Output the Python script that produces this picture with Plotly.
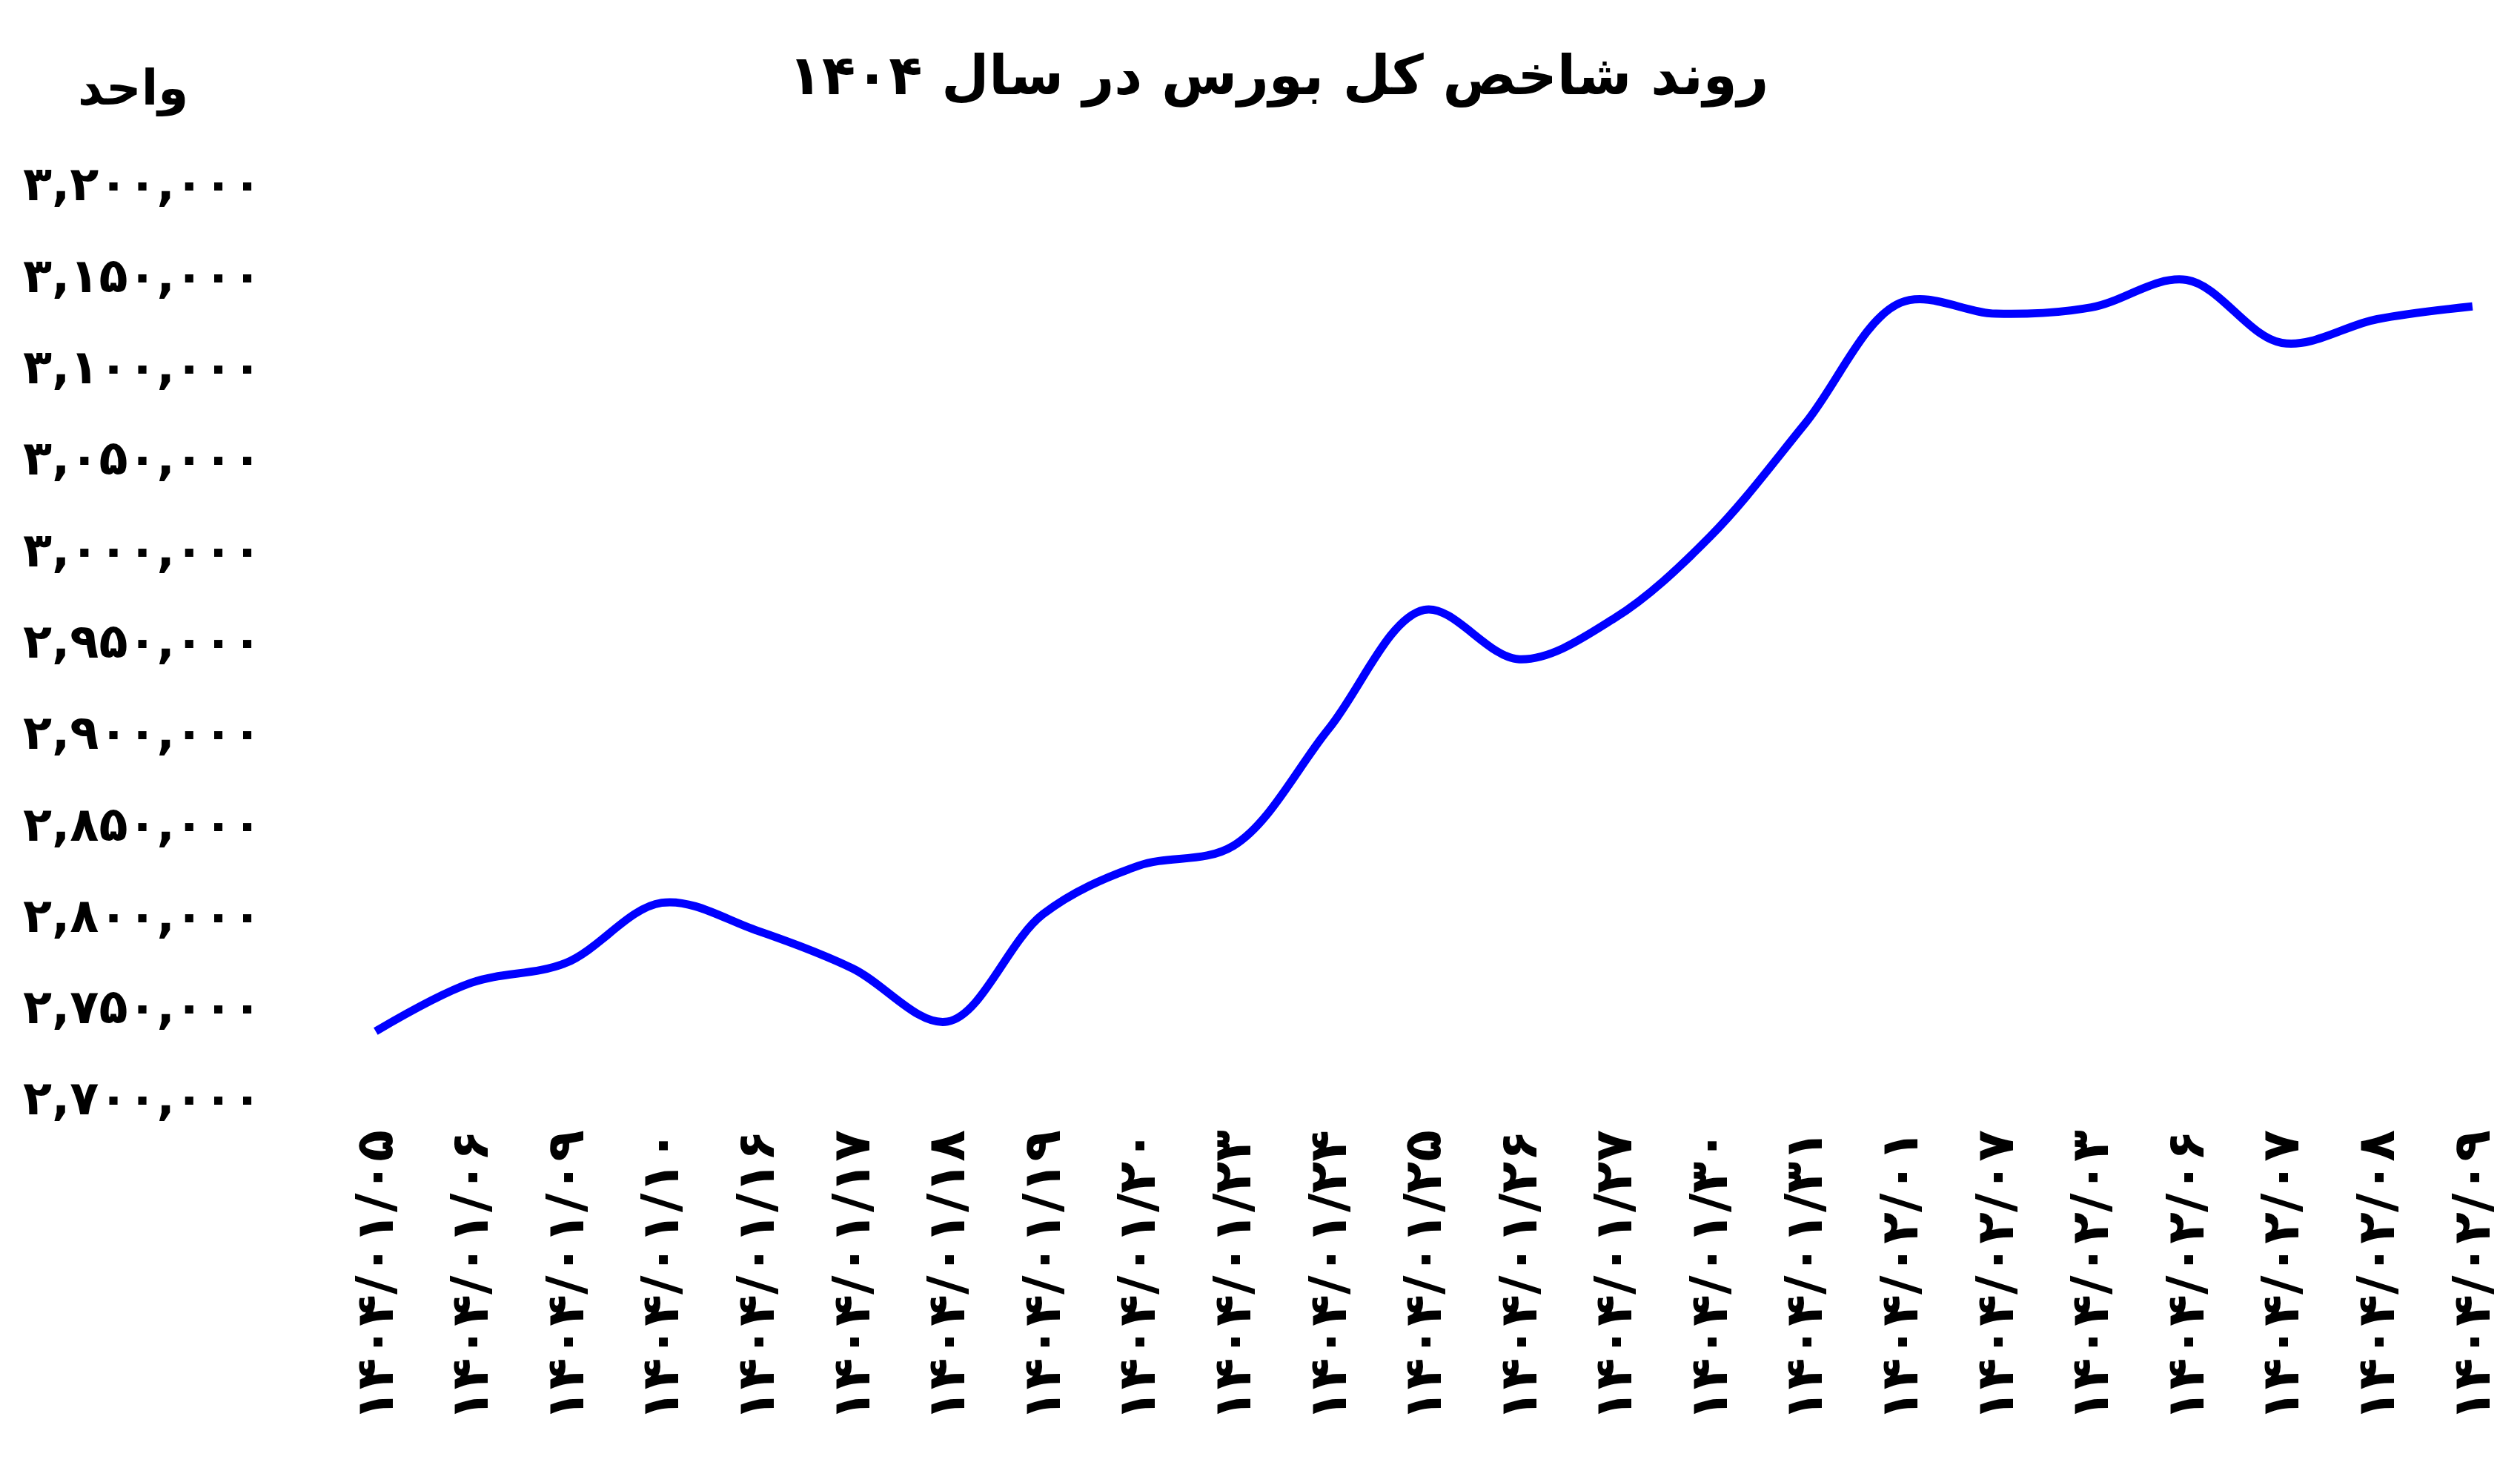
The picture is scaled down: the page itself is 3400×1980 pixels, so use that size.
import plotly.graph_objects as go

# dates (Jalali, as printed on the chart)
dates = [
    "۱۴۰۴/۰۱/۰۵", "۱۴۰۴/۰۱/۰۶", "۱۴۰۴/۰۱/۰۹", "۱۴۰۴/۰۱/۱۰", "۱۴۰۴/۰۱/۱۶",
    "۱۴۰۴/۰۱/۱۷", "۱۴۰۴/۰۱/۱۸", "۱۴۰۴/۰۱/۱۹", "۱۴۰۴/۰۱/۲۰", "۱۴۰۴/۰۱/۲۳",
    "۱۴۰۴/۰۱/۲۴", "۱۴۰۴/۰۱/۲۵", "۱۴۰۴/۰۱/۲۶", "۱۴۰۴/۰۱/۲۷", "۱۴۰۴/۰۱/۳۰",
    "۱۴۰۴/۰۱/۳۱", "۱۴۰۴/۰۲/۰۱", "۱۴۰۴/۰۲/۰۷", "۱۴۰۴/۰۲/۰۳", "۱۴۰۴/۰۲/۰۶",
    "۱۴۰۴/۰۲/۰۷", "۱۴۰۴/۰۲/۰۸", "۱۴۰۴/۰۲/۰۹",
]

# total index values
index_values = [
    2736500, 2763000, 2774000, 2806800, 2791600,
    2771000, 2741800, 2800500, 2827000, 2838000,
    2902000, 2967000, 2940000, 2962500, 3007000,
    3069000, 3135000, 3129000, 3132400, 3147500,
    3113000, 3126000, 3133000,
]

# y axis ticks
y_tickvals = [2700000, 2750000, 2800000, 2850000, 2900000, 2950000,
              3000000, 3050000, 3100000, 3150000, 3200000]
y_ticktext = ["۲,۷۰۰,۰۰۰", "۲,۷۵۰,۰۰۰", "۲,۸۰۰,۰۰۰", "۲,۸۵۰,۰۰۰", "۲,۹۰۰,۰۰۰",
              "۲,۹۵۰,۰۰۰", "۳,۰۰۰,۰۰۰", "۳,۰۵۰,۰۰۰", "۳,۱۰۰,۰۰۰", "۳,۱۵۰,۰۰۰",
              "۳,۲۰۰,۰۰۰"]

font_name = "DejaVu Sans"

fig = go.Figure()

fig.add_trace(go.Scatter(
    x=list(range(len(dates))),
    y=index_values,
    mode='lines',
    line=dict(color='#0000FF', width=11, shape='spline', smoothing=1),
    showlegend=False,
))

fig.update_layout(
    width=3400,
    height=1980,
    paper_bgcolor='white',
    plot_bgcolor='white',
    margin=dict(l=360, r=40, t=240, b=507),
    title=dict(
        text='روند شاخص کل بورس در سال ۱۴۰۴',
        x=0.505, xanchor='center',
        y=0.953, yanchor='middle',
        font=dict(family=font_name, size=74, color='black', weight='bold'),
    ),
    xaxis=dict(
        tickmode='array',
        tickvals=list(range(len(dates))),
        ticktext=dates,
        tickangle=-90,
        range=[-1.08, 22.25],
        showgrid=False,
        zeroline=False,
        showline=False,
        ticks='',
        ticklabelstandoff=28,
        tickfont=dict(family=font_name, size=70, color='black', weight='bold'),
    ),
    yaxis=dict(
        tickmode='array',
        tickvals=y_tickvals,
        ticktext=y_ticktext,
        range=[2700000, 3200000],
        showgrid=False,
        zeroline=False,
        showline=False,
        ticks='',
        ticklabelstandoff=14,
        tickfont=dict(family=font_name, size=64, color='black', weight='bold'),
    ),
)

# unit label above the y axis
fig.add_annotation(
    text='واحد',
    xref='paper', yref='paper',
    x=-0.063, y=1.105,
    xanchor='center', yanchor='middle',
    showarrow=False,
    font=dict(family=font_name, size=66, color='black', weight='bold'),
)

fig.write_html("out.html")
